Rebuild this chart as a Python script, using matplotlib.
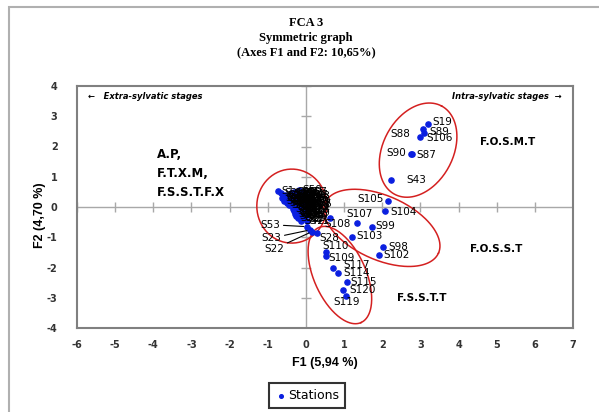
import numpy as np
import matplotlib.pyplot as plt
from matplotlib.patches import Rectangle

plt.rcParams["axes.unicode_minus"] = False

# named stations (F1, F2)
STATIONS = ["S19", "S88", "S89", "S106", "S90", "S87", "S43",
            "S105", "S104", "S107", "S108", "S99", "S103", "S98", "S102",
            "S28", "S53", "S23", "S22",
            "S110", "S109", "S117", "S114", "S115", "S120", "S119"]
F1 = [3.19, 3.06, 3.10, 2.99, 2.75, 2.79, 2.22,
      2.16, 2.07, 1.35, 0.63, 1.72, 1.22, 2.01, 1.92,
      0.28, 0.02, 0.10, 0.15,
      0.52, 0.52, 0.72, 0.85, 1.07, 0.96, 1.04]
F2 = [2.74, 2.58, 2.46, 2.32, 1.75, 1.74, 0.89,
      0.20, -0.12, -0.54, -0.35, -0.65, -1.00, -1.33, -1.60,
      -0.87, -0.65, -0.76, -0.82,
      -1.49, -1.62, -2.02, -2.17, -2.47, -2.76, -2.94]

# crowded stations near the origin
CLUSTER_F1 = [-0.72, -0.65, -0.60, -0.55, -0.50, -0.45, -0.40, -0.35, -0.30, -0.22, -0.15, -0.10,
              -0.62, -0.55, -0.48, -0.42, -0.38, -0.30, -0.25, -0.20, -0.15, -0.10, -0.05, 0.00,
              -0.35, -0.30, -0.25, -0.20, -0.15, -0.10, -0.05, 0.00, -0.02, 0.02, -0.08, -0.02,
              0.02, -0.12, -0.25, -0.45, -0.50, -0.58, 0.05, 0.05, -0.18,
              -0.28, -0.22, -0.18, -0.12, -0.08, -0.04, 0.03, 0.06, -0.32, -0.26, -0.16, -0.06,
              0.04, -0.10, -0.20, -0.14, -0.28, -0.36, 0.00, -0.08, -0.22, -0.30, -0.12, 0.08,
              -0.40, -0.34]
CLUSTER_F2 = [0.52, 0.45, 0.38, 0.30, 0.22, 0.15, 0.05, -0.05, -0.12, -0.20, -0.28, -0.35,
              0.30, 0.40, 0.35, 0.28, 0.45, 0.50, 0.40, 0.30, 0.20, 0.10, 0.00, -0.10,
              0.20, 0.10, 0.00, -0.05, 0.45, 0.35, 0.25, 0.15, 0.40, 0.30, -0.20, -0.30,
              -0.45, -0.45, -0.30, 0.05, 0.12, 0.20, 0.05, -0.20, 0.55,
              0.32, 0.22, 0.12, 0.02, -0.08, 0.48, 0.38, 0.18, 0.40, -0.15, -0.12, -0.38,
              -0.05, 0.28, 0.50, 0.06, -0.22, 0.34, 0.20, 0.44, -0.38, 0.00, -0.25, 0.10,
              0.42, 0.26]
_used = {19, 22, 23, 28, 43, 53, 87, 88, 89, 90}
CLUSTER_NAMES = [f"S{i}" for i in range(1, 87) if i not in _used][:len(CLUSTER_F1)]

XTICKS = list(range(-6, 8))
YTICKS = list(range(-4, 5))

# label offsets in pixels (dx, dy, ha)
LABEL_POS = {
    "S19": (5, 2, "left"), "S88": (-12, -5, "right"), "S89": (5, 1, "left"),
    "S106": (6, -1, "left"), "S90": (-5, 1, "right"), "S87": (4, -1, "left"),
    "S43": (16, 0, "left"), "S105": (-5, 2, "right"), "S104": (5, -1, "left"),
    "S107": (2, 9, "center"), "S108": (8, -6, "center"), "S99": (4, 1, "left"),
    "S103": (4, 1, "left"), "S98": (6, 0, "left"), "S102": (4, 0, "left"),
    "S28": (3, -5, "left"), "S110": (10, 6, "center"), "S109": (3, -2, "left"),
    "S117": (10, 3, "left"), "S114": (5, 0, "left"), "S115": (4, 0, "left"),
    "S120": (7, 0, "left"), "S119": (1, -6, "center"),
}
LEADER_POS = {"S53": (-26, 2), "S23": (-28, -8), "S22": (-27, -17)}

# ellipses: centre (F1, F2), half axes in pixels, angle in degrees on screen
ELLIPSES = [(2.94, 1.88, 50, 35, 62), (1.99, -0.69, 62, 32, -24),
            (0.89, -2.25, 52, 26, -66), (-0.37, 0.03, 35, 37, 0)]

W, H = 599, 412
fig = plt.figure(figsize=(W / 100, H / 100), dpi=100)
ax = fig.add_axes([77 / W, 1 - 328 / H, (573 - 77) / W, (328 - 86) / H])
ax.set_xlim(-6, 7)
ax.set_ylim(-4, 4)

fig.patches.append(Rectangle((9 / W, -0.1), 1.2, 1.1 - 7 / H, transform=fig.transFigure,
                             fill=False, edgecolor="#b0b0b0", linewidth=1.5))

for s in ax.spines.values():
    s.set_color("#808080")
    s.set_linewidth(1.5)

ax.axhline(0, color="#a8a8a8", linewidth=1, zorder=1)
ax.axvline(0, color="#a8a8a8", linewidth=1, zorder=1)
ax.plot(XTICKS, np.zeros(len(XTICKS)), linestyle="none", marker="|", markersize=7,
        color="#a8a8a8", zorder=1)
ax.plot(np.zeros(len(YTICKS)), YTICKS, linestyle="none", marker="_", markersize=7,
        color="#a8a8a8", zorder=1)

ax.set_xticks(XTICKS)
ax.set_yticks(YTICKS)
ax.tick_params(axis="x", length=0, labelsize=7, labelcolor="#333333", pad=9)
ax.tick_params(axis="y", length=0, labelsize=7, labelcolor="#333333", pad=14)
for lab in ax.get_xticklabels() + ax.get_yticklabels():
    lab.set_fontweight("bold")

blue = "#0a1fe0"
sc = ax.scatter(CLUSTER_F1 + F1, CLUSTER_F2 + F2, s=14, color=blue, zorder=3,
                label="Stations")

for name, x, y in zip(CLUSTER_NAMES, CLUSTER_F1, CLUSTER_F2):
    ax.annotate(name, (x, y), xytext=(3, 0), textcoords="offset pixels",
                fontsize=7.5, ha="left", va="center", color="black", zorder=4)

for name, x, y in zip(STATIONS, F1, F2):
    if name in LEADER_POS:
        dx, dy = LEADER_POS[name]
        ax.annotate(name, (x, y), xytext=(dx, dy), textcoords="offset pixels",
                    fontsize=7.5, ha="right", va="center", zorder=4,
                    arrowprops=dict(arrowstyle="-", color="black", lw=0.8,
                                    shrinkA=0, shrinkB=2))
        continue
    dx, dy, ha = LABEL_POS[name]
    ax.annotate(name, (x, y), xytext=(dx, dy), textcoords="offset pixels",
                fontsize=7.5, ha=ha, va="center", zorder=4)

# ellipses drawn in screen proportions
px_x = (573 - 77) / 13
px_y = (328 - 86) / 8
t = np.linspace(0, 2 * np.pi, 200)
for cx, cy, a, b, ang in ELLIPSES:
    r = np.deg2rad(ang)
    ex = a * np.cos(t) * np.cos(r) - b * np.sin(t) * np.sin(r)
    ey = a * np.cos(t) * np.sin(r) + b * np.sin(t) * np.cos(r)
    ax.plot(cx + ex / px_x, cy + ey / px_y, color="#d42020", linewidth=1.1, zorder=2)

ax.text(-5.7, 3.65, "\u2190   Extra-sylvatic stages", fontsize=6, style="italic",
        fontweight="bold", ha="left", va="center")
ax.text(6.7, 3.65, "Intra-sylvatic stages  \u2192", fontsize=6, style="italic",
        fontweight="bold", ha="right", va="center")
ax.text(-3.9, 1.95, "A.P,\nF.T.X.M,\nF.S.S.T.F.X", fontsize=8.5, fontweight="bold",
        ha="left", va="top", linespacing=1.6)
ax.text(4.55, 2.15, "F.O.S.M.T", fontsize=7.5, fontweight="bold", ha="left", va="center")
ax.text(4.3, -1.4, "F.O.S.S.T", fontsize=7.5, fontweight="bold", ha="left", va="center")
ax.text(2.4, -3.0, "F.S.S.T.T", fontsize=7.5, fontweight="bold", ha="left", va="center")

fig.text(306 / W, 1 - 38 / H, "FCA 3\nSymmetric graph\n(Axes F1 and F2: 10,65%)",
         family="Liberation Serif", fontweight="bold", fontsize=9, ha="center",
         va="center", linespacing=1.3)
fig.text(325 / W, 1 - 363 / H, "F1 (5,94 %)", family="Liberation Sans",
         fontweight="bold", fontsize=9, ha="center", va="center")
fig.text(40 / W, 1 - 215 / H, "F2 (4,70 %)", family="Liberation Sans",
         fontweight="bold", fontsize=9, ha="center", va="center", rotation=90)

leg = fig.legend(handles=[sc], loc="center", bbox_to_anchor=(307 / W, 1 - 395.5 / H),
                 fancybox=False, edgecolor="black", fontsize=9, handletextpad=0.1,
                 handlelength=1.0, borderpad=0.45, markerscale=0.7)
leg.get_frame().set_linewidth(1.5)

fig.savefig("out.png", dpi=100)
